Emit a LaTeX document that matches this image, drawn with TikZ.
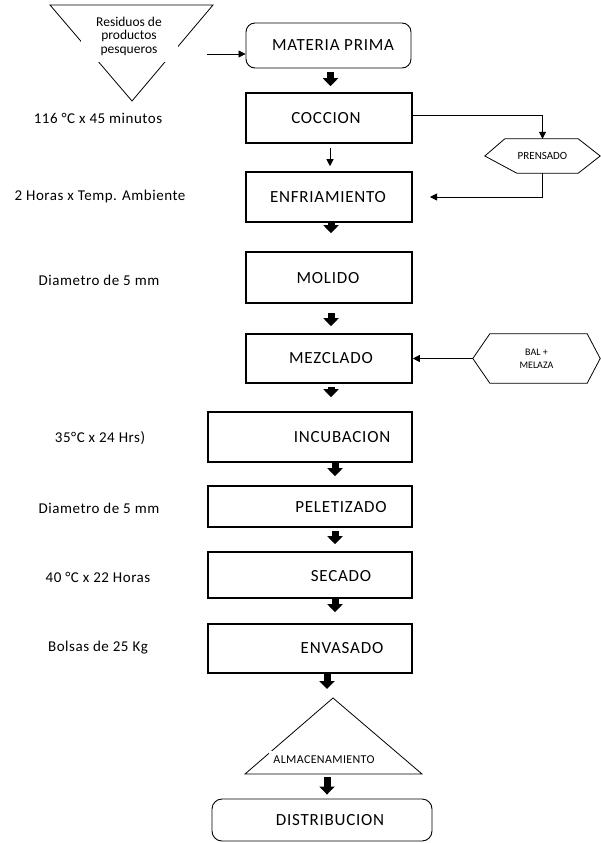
\documentclass[tikz,border=0pt]{standalone}
\usepackage{fontspec}
\setmainfont{Carlito}
\usetikzlibrary{arrows.meta,calc}
\begin{document}
\begin{tikzpicture}[x=1pt,y=-1pt,
  stepbox/.style={draw, line width=1.6pt, inner sep=0pt},
  roundbox/.style={draw, line width=0.9pt, rounded corners=9pt, inner sep=0pt},
  steptext/.style={font=\fontsize{17}{20}\selectfont\addfontfeatures{LetterSpace=4.5}, inner sep=0pt},
  sidetext/.style={font=\fontsize{15}{18}\selectfont\addfontfeatures{LetterSpace=3.5}, inner sep=0pt},
  smalltext/.style={align=center, inner sep=0pt},
  thinline/.style={line width=0.8pt},
  thinarrow/.style={line width=0.8pt, -{Triangle[width=7pt,length=7pt]}},
  blockarrow/.style={line width=7pt, -{Triangle[width=15pt,length=8pt]}},
  ]
\useasboundingbox (0,0) rectangle (600,843);

% --- inverted triangle: raw material source
\coordinate (r1) at (50,5);
\coordinate (r2) at (213,5);
\coordinate (r3) at (132,101);
\draw[thinline] (r1) -- (r2) -- (r3) -- cycle;
\node[smalltext, fill=white, minimum width=97pt, minimum height=52pt,
      font=\fontsize{13.5}{13.5}\selectfont] (resid) at (129,36)
      {Residuos de\\productos\\pesqueros};
\coordinate (resin) at (207,54);

% --- process boxes
\node[roundbox, minimum width=165pt, minimum height=45pt] (materia) at (328.5,45.5) {};
\node[steptext] (materia-t) at (333,45) {MATERIA PRIMA};

\node[stepbox, minimum width=166pt, minimum height=50pt] (coccion) at (329,118) {};
\node[steptext] (coccion-t) at (326,118) {COCCION};

\node[stepbox, minimum width=166pt, minimum height=50pt] (enfr) at (329,197) {};
\node[steptext] (enfr-t) at (328,197) {ENFRIAMIENTO};

\node[stepbox, minimum width=166pt, minimum height=51pt] (molido) at (329,277.5) {};
\node[steptext] (molido-t) at (328,278) {MOLIDO};

\node[stepbox, minimum width=166pt, minimum height=49pt] (mezcla) at (329,358.5) {};
\node[steptext] (mezcla-t) at (331,358) {MEZCLADO};

\node[stepbox, minimum width=204pt, minimum height=50pt] (incub) at (310,437) {};
\node[steptext] (incub-t) at (342,437) {INCUBACION};

\node[stepbox, minimum width=204pt, minimum height=41pt] (pelet) at (310,506.5) {};
\node[steptext] (pelet-t) at (341,507) {PELETIZADO};

\node[stepbox, minimum width=204pt, minimum height=46pt] (secado) at (310,575) {};
\node[steptext] (secado-t) at (341,576) {SECADO};

\node[stepbox, minimum width=204pt, minimum height=49pt] (envas) at (310,648.5) {};
\node[steptext] (envas-t) at (342,648) {ENVASADO};

% --- storage triangle
\coordinate (a1) at (333,698);
\coordinate (a2) at (422,774);
\coordinate (a3) at (245,774);
\draw[thinline] (a1) -- (a2) -- (a3) -- cycle;
\node[fill=white, inner xsep=4pt, inner ysep=0pt, minimum height=18pt,
      font=\fontsize{12}{14}\selectfont\addfontfeatures{LetterSpace=3}] (almac) at (324,760) {ALMACENAMIENTO};

\node[roundbox, rounded corners=10pt, minimum width=220pt, minimum height=42pt] (distrib) at (322,820) {};
\node[steptext] (distrib-t) at (330,820) {DISTRIBUCION};

% --- side operations (hexagons)
\node[smalltext, minimum width=115pt, minimum height=34pt,
      font=\fontsize{11}{12}\selectfont] (prensado) at (542.5,156) {PRENSADO};
\draw[thinline] (prensado.west) -- ([xshift=20pt]prensado.north west)
  -- ([xshift=-22pt]prensado.north east) -- (prensado.east)
  -- ([xshift=-22pt]prensado.south east) -- ([xshift=32pt]prensado.south west) -- cycle;
\coordinate (enfin) at (430,197);

\node[smalltext, minimum width=127pt, minimum height=49pt,
      font=\fontsize{10}{13}\selectfont] (bal) at (536.5,358.5) {BAL +\\MELAZA};
\draw[thinline] (bal.west) -- ([xshift=17pt]bal.north west)
  -- ([xshift=-13pt]bal.north east) -- (bal.east)
  -- ([xshift=-13pt]bal.south east) -- ([xshift=17pt]bal.south west) -- cycle;

% --- operating conditions
\node[sidetext] (c1) at (98,118) {116 °C x 45 minutos};
\node[sidetext] (c2) at (100,196) {2 Horas x Temp. Ambiente};
\node[sidetext] (c3) at (99,280) {Diametro de 5 mm};
\node[sidetext] (c4) at (100,438) {35°C x 24 Hrs)};
\node[sidetext] (c5) at (99,508) {Diametro de 5 mm};
\node[sidetext] (c6) at (98,577) {40 °C x 22 Horas};
\node[sidetext] (c7) at (98,648) {Bolsas de 25 Kg};

% --- connectors
\draw[thinarrow] (resin) -- (resin -| materia.west);
\draw[blockarrow, shorten <=4pt, shorten >=6pt] ([xshift=2pt]materia.south) -- ([xshift=2pt]materia.south |- coccion.north);
\draw[thinarrow, shorten <=4pt, shorten >=5pt] ([xshift=1pt]coccion.south) -- ([xshift=1pt]enfr.north);
\draw[thinarrow] ([yshift=3pt]coccion.east) -| (prensado.north);
\draw[thinarrow] (prensado.south) |- (enfin);
\draw[blockarrow, shorten <=0pt, shorten >=18pt] ([xshift=2pt]enfr.south) -- ([xshift=2pt]molido.north);
\draw[blockarrow, shorten <=9pt, shorten >=7pt] ([xshift=2pt]molido.south) -- ([xshift=2pt]mezcla.north);
\draw[thinarrow] (bal.west) -- (bal.west -| mezcla.east);
\draw[blockarrow, shorten <=3pt, shorten >=14pt] ([xshift=2pt]mezcla.south) -- ([xshift=2pt]mezcla.south |- incub.north);
\draw[blockarrow, shorten <=0pt, shorten >=9pt] ([xshift=25pt]incub.south) -- ([xshift=25pt]pelet.north);
\draw[blockarrow, shorten <=3pt, shorten >=7pt] ([xshift=25pt]pelet.south) -- ([xshift=25pt]secado.north);
\draw[blockarrow, shorten <=0pt, shorten >=11pt] ([xshift=25pt]secado.south) -- ([xshift=25pt]envas.north);
\draw[blockarrow, shorten <=0pt, shorten >=9pt] ([xshift=17pt]envas.south) -- ([xshift=17pt]envas.south |- a1);
\draw[blockarrow, shorten <=3pt, shorten >=4pt] ([xshift=5pt]distrib.north |- a3) -- ([xshift=5pt]distrib.north);
\end{tikzpicture}
\end{document}
